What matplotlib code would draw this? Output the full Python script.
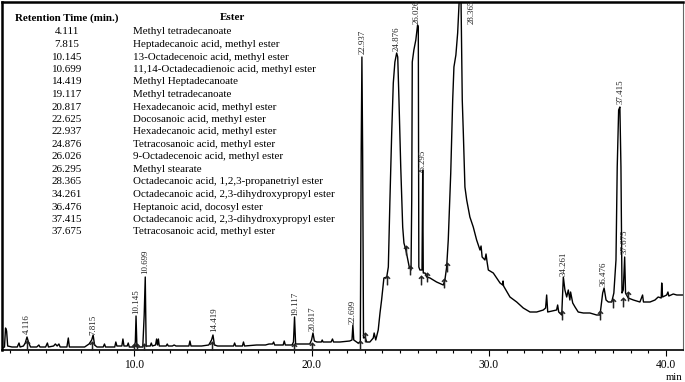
# %% imports
import matplotlib
matplotlib.use("Agg")
import matplotlib.pyplot as plt
from matplotlib.ticker import MultipleLocator

plt.rcParams['font.family'] = ['Liberation Serif', 'DejaVu Serif']

# %% data (time in min, detector signal in arbitrary units)
trace_t = [2.54, 2.68, 2.74, 2.80, 2.86, 3.10, 3.40, 3.50, 3.56, 3.75, 3.85, 3.95, 4.05, 4.15,
           4.50, 4.62, 4.68, 5.00, 5.10, 5.16, 5.45, 5.55, 5.65, 5.75, 5.82, 6.20, 6.28, 6.34,
           6.80, 7.20, 7.45, 7.60, 7.68, 7.76, 7.90, 8.25, 8.32, 8.38, 8.90, 8.96, 9.02, 9.30,
           9.36, 9.42, 9.60, 9.66, 9.72, 10.00, 10.06, 10.10, 10.15, 10.48, 10.56, 10.62, 10.67,
           10.90, 10.96, 11.02, 11.20, 11.26, 11.31, 11.36, 11.41, 11.80, 11.86, 11.92, 12.15,
           12.25, 12.35, 13.08, 13.14, 13.20, 13.80, 14.20, 14.36, 14.44, 14.52, 14.70, 15.30,
           15.60, 15.66, 15.72, 16.10, 16.16, 16.22, 16.90, 17.40, 17.60, 17.80, 17.86, 17.92,
           18.40, 18.46, 18.52, 18.90, 18.98, 19.04, 19.10, 19.50, 19.90, 20.00, 20.08, 20.16,
           20.30, 20.55, 20.60, 20.65, 21.10, 21.18, 21.24, 21.60, 22.15, 22.28, 22.33, 22.38,
           22.62, 22.75, 22.80, 22.84, 22.88, 22.93, 23.01, 23.11, 23.29, 23.48, 23.53, 23.62,
           23.76, 23.86, 23.95, 24.08, 24.24, 24.33, 24.42, 24.52, 24.61, 24.70, 24.80, 24.86,
           24.93, 25.03, 25.14, 25.21, 25.32, 25.40, 25.51, 25.61, 25.65, 25.68, 25.77, 25.88,
           25.98, 26.02, 26.05, 26.11, 26.23, 26.27, 26.30, 26.40, 26.49, 26.68, 27.05, 27.43,
           27.52, 27.62, 27.71, 27.85, 27.96, 28.03, 28.14, 28.24, 28.33, 28.38, 28.43, 28.50,
           28.56, 28.65, 28.75, 28.93, 29.12, 29.31, 29.50, 29.56, 29.62, 29.78, 29.84, 29.90,
           29.97, 30.25, 30.63, 30.78, 30.80, 30.83, 31.19, 31.57, 31.94, 32.32, 32.70, 33.07,
           33.20, 33.26, 33.32, 33.82, 33.88, 33.94, 34.11, 34.20, 34.29, 34.39, 34.48, 34.57,
           34.61, 34.73, 34.86, 35.04, 35.33, 35.70, 36.08, 36.27, 36.42, 36.50, 36.61, 36.74,
           36.93, 37.05, 37.17, 37.24, 37.32, 37.39, 37.45, 37.51, 37.58, 37.66, 37.71, 37.86,
           38.15, 38.52, 38.67, 38.72, 39.09, 39.37, 39.55, 39.72, 39.75, 39.80, 40.03, 40.10,
           40.15, 40.40, 40.60, 40.95]
trace_y = [2, 3, 22, 19, 4, 3, 3, 7, 3, 4, 7, 13, 7, 3,
           3, 5, 3, 3, 7, 3, 4, 6, 4, 6, 3, 3, 12, 3,
           3, 3, 6, 10, 15, 5, 3, 3, 6, 3, 3, 8, 4, 4,
           11, 4, 4, 7, 3, 3, 8, 34, 3, 3, 35, 73, 4,
           4, 7, 4, 5, 11, 5, 11, 4, 4, 6, 4, 4,
           5, 4, 4, 9, 4, 4, 5, 10, 15, 5, 4, 4,
           4, 7, 4, 4, 8, 4, 5, 5, 6, 6, 8, 5,
           5, 9, 5, 5, 8, 33, 6, 6, 6, 10, 17, 9,
           8, 8, 10, 8, 8, 11, 8, 8, 9, 10, 25, 10,
           7, 8, 200, 293, 200, 12, 13, 8, 8, 12, 17, 10,
           20, 37, 50, 72, 73, 83, 150, 217, 267, 288, 297, 293,
           250, 183, 123, 107, 100, 93, 83, 80, 150, 288, 300, 310,
           325, 323, 83, 80, 80, 180, 77, 77, 73, 72, 68, 65,
           70, 83, 110, 177, 250, 283, 295, 317, 350, 390, 350, 250,
           217, 163, 150, 133, 123, 110, 100, 104, 93, 90, 96, 88,
           80, 77, 67, 65, 69, 64, 53, 48, 42, 38, 38, 40,
           42, 55, 38, 40, 45, 38, 35, 73, 60, 53, 60, 50,
           58, 47, 43, 38, 37, 37, 35, 35, 57, 62, 50, 48,
           48, 57, 90, 183, 240, 243, 183, 57, 60, 93, 57, 52,
           50, 48, 55, 48, 48, 50, 53, 52, 67, 53, 55, 58,
           54, 56, 55, 55]

# peak labels printed above the peaks
peak_labels = ["4.116", "7.815", "10.145", "10.699", "14.419", "19.117", "20.817", "22.699",
               "22.937", "24.876", "26.026", "26.295", "28.365", "34.261", "36.476", "37.415",
               "37.675"]
peak_label_t = [3.95, 7.67, 10.10, 10.60, 14.50, 19.06, 20.08, 22.33,
                22.90, 24.82, 25.95, 26.28, 29.05, 34.24, 36.46, 37.45, 37.68]
peak_label_y = [15, 14, 35, 75, 17, 33, 18, 25, 295, 298, 325, 175, 325, 73, 63, 245, 95]

# integration markers (peak start / end)
mark_t = [3.95, 7.61, 9.98, 10.15, 10.55, 14.38, 19.00, 20.02, 22.73, 23.01, 24.25, 25.32,
          25.55, 26.17, 26.51, 27.46, 27.64, 34.12, 36.27, 37.00, 37.56, 37.85]
mark_y = [5, 4, 2, 2, 2, 4, 2, 3, 5, 13, 70, 100, 80, 70, 73, 67, 83, 35, 35, 47, 48, 54]

# table of identified esters
ret_times = ["4.111", "7.815", "10.145", "10.699", "14.419", "19.117", "20.817", "22.625",
             "22.937", "24.876", "26.026", "26.295", "28.365", "34.261", "36.476", "37.415",
             "37.675"]
esters = ["Methyl tetradecanoate",
          "Heptadecanoic acid, methyl ester",
          "13-Octadecenoic acid, methyl ester",
          "11,14-Octadecadienoic acid, methyl ester",
          "Methyl Heptadecanoate",
          "Methyl tetradecanoate",
          "Hexadecanoic acid, methyl ester",
          "Docosanoic acid, methyl ester",
          "Hexadecanoic acid, methyl ester",
          "Tetracosanoic acid, methyl ester",
          "9-Octadecenoic acid, methyl ester",
          "Methyl stearate",
          "Octadecanoic acid, 1,2,3-propanetriyl ester",
          "Octadecanoic acid, 2,3-dihydroxypropyl ester",
          "Heptanoic acid, docosyl ester",
          "Octadecanoic acid, 2,3-dihydroxypropyl ester",
          "Tetracosanoic acid, methyl ester"]

# %% plot
W, H = 685, 382
fig = plt.figure(figsize=(W / 100, H / 100), dpi=100)
ax = fig.add_axes([2 / W, 32 / H, 681 / W, 348 / H])

ax.plot(trace_t, trace_y, color='black', lw=1.0)
ax.scatter(mark_t, mark_y, marker=r'$\uparrow$', s=45, color='#222222', lw=0.3, zorder=3)

for lab, t, y in zip(peak_labels, peak_label_t, peak_label_y):
    ax.text(t, y + 1, lab, rotation=90, ha='center', va='bottom', fontsize=6.4,
            color='#222222', clip_on=False)

ax.set_xlim(2.54, 40.95)
ax.set_ylim(0, 348)

ax.xaxis.set_minor_locator(MultipleLocator(1))
ax.set_xticks([10, 20, 30, 40])
ax.set_xticklabels(["10.0", "20.0", "30.0", "40.0"], fontsize=8.3)
ax.tick_params(axis='x', which='major', direction='out', length=4, width=0.8, pad=2.5)
ax.tick_params(axis='x', which='minor', direction='out', length=2.5, width=0.8)
ax.set_yticks([])

for side in ['left', 'top']:
    ax.spines[side].set_linewidth(1.8)
ax.spines['bottom'].set_linewidth(1.2)
ax.spines['right'].set_linewidth(0.8)
ax.spines['right'].set_color('#666666')

fig.text(674 / W, 1 - 377 / H, "min", ha='center', va='center', fontsize=7.6)

# table in upper left
fs = 7.9
fig.text(67 / W, 1 - 18 / H, "Retention Time (min.)", ha='center', va='center',
         fontsize=fs, fontweight='bold')
fig.text(232 / W, 1 - 18 / H, "Ester", ha='center', va='center', fontsize=fs,
         fontweight='bold')
for i, (rt, es) in enumerate(zip(ret_times, esters)):
    yy = 1 - (32 + i * 12.5) / H
    fig.text(67 / W, yy, rt, ha='center', va='center', fontsize=fs)
    fig.text(133 / W, yy, es, ha='left', va='center', fontsize=fs)

fig.savefig('out.png', dpi=100)
